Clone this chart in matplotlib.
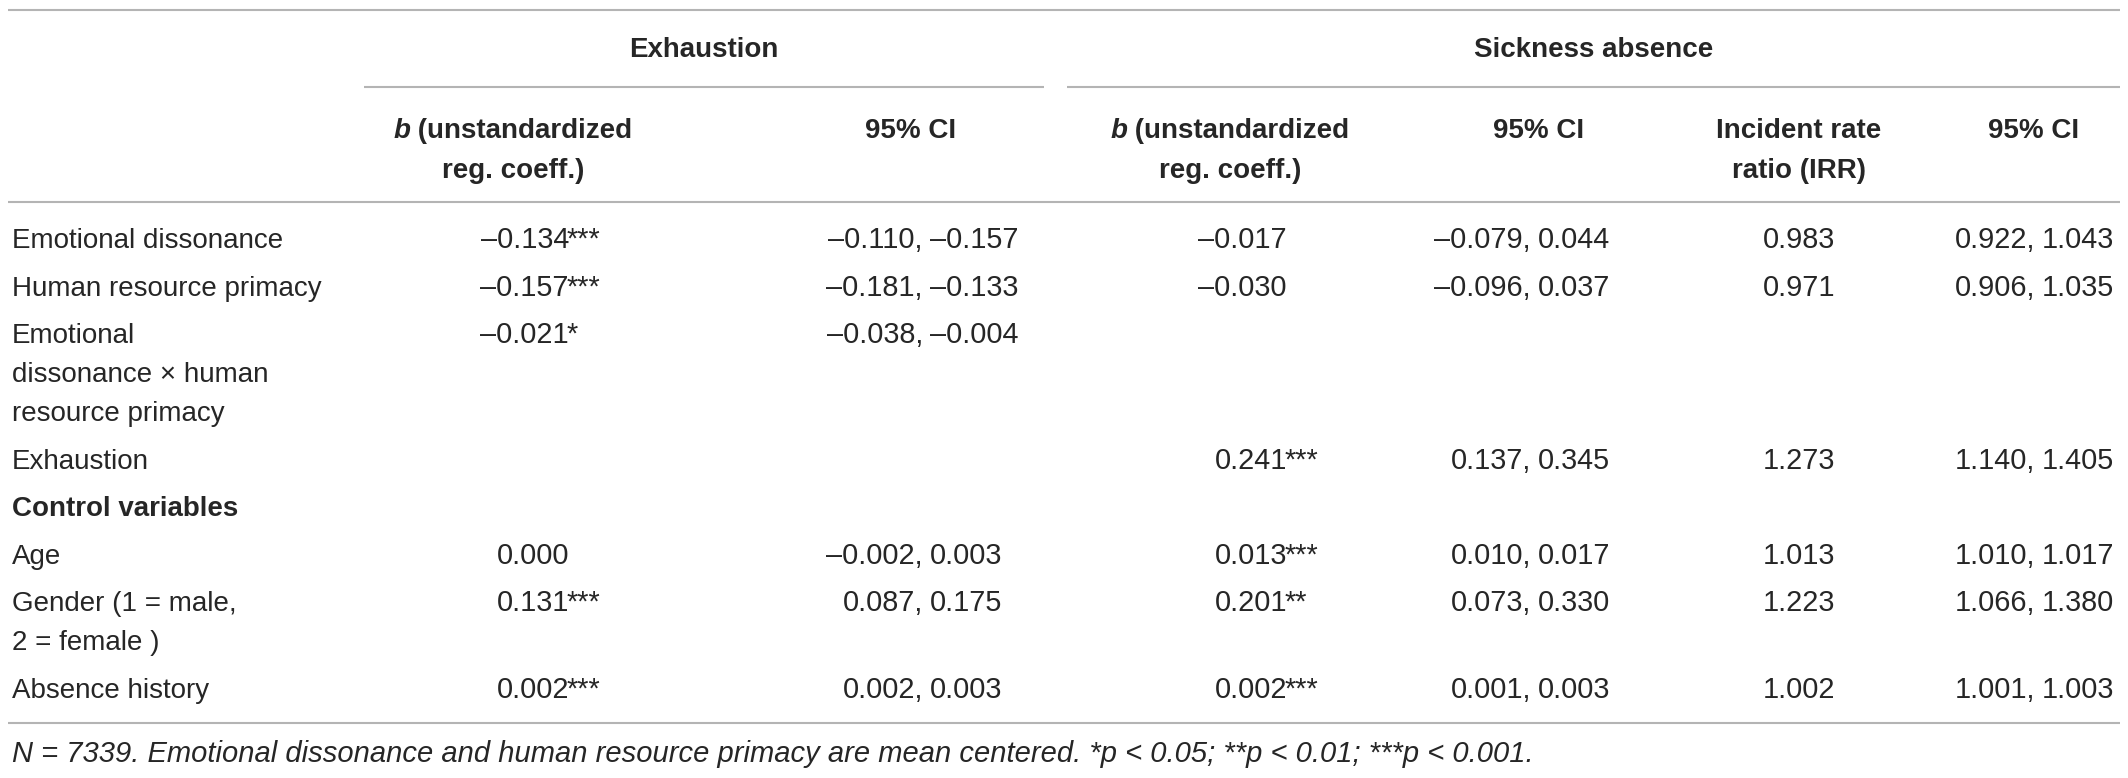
import matplotlib
matplotlib.use("Agg")
import matplotlib.pyplot as plt

# table content
row_labels = ["Emotional dissonance", "Human resource primacy",
              "Emotional\ndissonance \u00d7 human\nresource primacy",
              "Exhaustion", "Control variables", "Age",
              "Gender (1 = male,\n2 = female )", "Absence history"]
row_bold = [False, False, False, False, True, False, False, False]

exh_b = ["\u20130.134", "\u20130.157", "\u20130.021", "", "", "0.000", "0.131", "0.002"]
exh_b_sig = ["***", "***", "*", "", "", "", "***", "***"]
exh_ci = [("\u20130.110", "\u20130.157"), ("\u20130.181", "\u20130.133"),
          ("\u20130.038", "\u20130.004"), None, None,
          ("\u20130.002", "0.003"), ("0.087", "0.175"), ("0.002", "0.003")]

sick_b = ["\u20130.017", "\u20130.030", "", "0.241", "", "0.013", "0.201", "0.002"]
sick_b_sig = ["", "", "", "***", "", "***", "**", "***"]
sick_ci = [("\u20130.079", "0.044"), ("\u20130.096", "0.037"), None,
           ("0.137", "0.345"), None, ("0.010", "0.017"),
           ("0.073", "0.330"), ("0.001", "0.003")]
irr = ["0.983", "0.971", "", "1.273", "", "1.013", "1.223", "1.002"]
irr_ci = [("0.922", "1.043"), ("0.906", "1.035"), None, ("1.140", "1.405"),
          None, ("1.010", "1.017"), ("1.066", "1.380"), ("1.001", "1.003")]

group_titles = ["Exhaustion", "Sickness absence"]
footnote = ("N = 7339. Emotional dissonance and human resource primacy are mean "
            "centered. *p < 0.05; **p < 0.01; ***p < 0.001.")

FONT = "Liberation Sans"
FS = 20
FS_NUM = 20.8
TXT = "#262626"
RULE = "#b4b4b4"

W, H = 2128, 778
fig = plt.figure(figsize=(W / 100, H / 100), dpi=100)
ax = fig.add_axes([0, 0, 1, 1])
ax.set_xlim(0, W)
ax.set_ylim(H, 0)
ax.axis("off")
renderer = fig.canvas.get_renderer()


def put(x, y, s, ha="left", weight="normal", style="normal", size=FS):
    return ax.text(x, y, s, ha=ha, va="baseline", fontsize=size,
                   family=FONT, weight=weight, style=style, color=TXT)


def run_width(s, weight, style):
    t = put(0, 0, s, weight=weight, style=style)
    bb = t.get_window_extent(renderer)
    t.remove()
    return bb.width


def put_runs(xc, y, runs):
    # centred line built from runs of (text, weight, style)
    widths = [run_width(s, w, st) for s, w, st in runs]
    x = xc - sum(widths) / 2
    for (s, w, st), wd in zip(runs, widths):
        put(x, y, s, weight=w, style=st)
        x += wd


def hline(y, x0, x1):
    ax.plot([x0, x1], [y, y], color=RULE, lw=1.5, solid_capstyle="butt")


# rules
hline(10, 8, 2120)
hline(87, 364, 1044)
hline(87, 1067, 2120)
hline(202, 8, 2120)
hline(723, 8, 2120)

# group headers
put(704, 57, group_titles[0], ha="center", weight="bold")
put(1594, 57, group_titles[1], ha="center", weight="bold")

# column headers
for xc in (513, 1230):
    put_runs(xc, 138, [("b", "bold", "italic"), (" (unstandardized", "bold", "normal")])
    put(xc, 178, "reg. coeff.)", ha="center", weight="bold")
for xc in (911, 1539, 2034):
    put(xc, 138, "95% CI", ha="center", weight="bold")
put(1799, 138, "Incident rate", ha="center", weight="bold")
put(1799, 178, "ratio (IRR)", ha="center", weight="bold")

# body
y = 248
for i, lab in enumerate(row_labels):
    lines = lab.split("\n")
    for k, ln in enumerate(lines):
        put(12, y + k * 39, ln, weight="bold" if row_bold[i] else "normal")
    if exh_b[i]:
        put(569, y, exh_b[i], ha="right", size=FS_NUM)
        put(567, y, exh_b_sig[i], size=FS_NUM)
    if sick_b[i]:
        put(1287, y, sick_b[i], ha="right", size=FS_NUM)
        put(1285, y, sick_b_sig[i], size=FS_NUM)
    if irr[i]:
        put(1799, y, irr[i], ha="center", size=FS_NUM)
    for ci, xs in ((exh_ci[i], 923), (sick_ci[i], 1531), (irr_ci[i], 2035)):
        if ci:
            put(xs, y, ci[0] + ",", ha="right", size=FS_NUM)
            put(xs + 7, y, ci[1], size=FS_NUM)
    y += (len(lines) - 1) * 39 + 47.5

put(12, 762, footnote, style="italic", size=21)

fig.savefig("out.png", dpi=100)
